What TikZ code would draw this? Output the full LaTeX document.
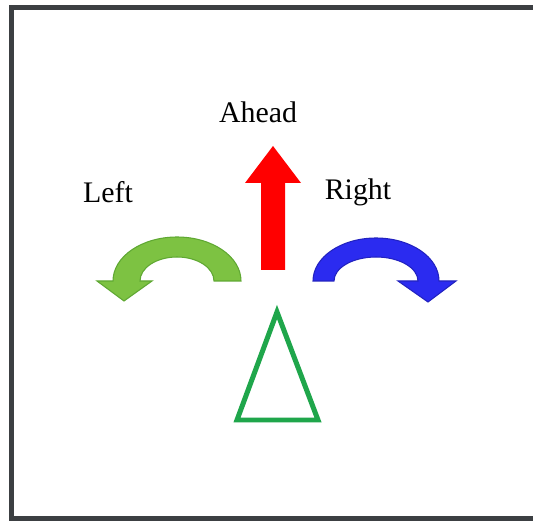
\documentclass[tikz,border=0pt]{standalone}
\usepackage{fontspec}
\setmainfont{Liberation Serif}
\definecolor{framegray}{HTML}{3C3F42}
\definecolor{leftgreen}{HTML}{7DC242}
\definecolor{leftedge}{HTML}{5FA832}
\definecolor{rightblue}{HTML}{2B2BF0}
\definecolor{aheadred}{HTML}{FF0000}
\definecolor{trigreen}{HTML}{1FA64B}
\begin{document}
\begin{tikzpicture}[x=0.02cm,y=0.02cm,
  lbl/.style={font=\fontsize{17}{20}\selectfont,inner sep=0pt},
  turnarrow/.style={line width=0.6pt,line join=miter}]
\useasboundingbox (0,0) rectangle (533,520);
\clip (0,0) rectangle (533,520);
\fill[white] (0,0) rectangle (533,520);
\draw[framegray,line width=0.1cm] (11.5,1.5) rectangle (560,512.5);
% labels
\node[lbl] (ahead) at (258,408) {Ahead};
\node[lbl] (left) at (108,328) {Left};
\node[lbl] (right) at (358,328) {Right};
% ahead arrow
\fill[aheadred] (261,250) -- (261,337) -- (245,337) -- (273,374) -- (301,337) -- (285,337) -- (285,250) -- cycle;
% left turn
\filldraw[turnarrow,fill=leftgreen,draw=leftedge] (241,239)
  arc[start angle=0,end angle=180,x radius=64,y radius=44]
  -- (97,239) -- (124,219) -- (152,239) -- (140,239)
  arc[start angle=180,end angle=0,x radius=37,y radius=24] -- cycle;
% right turn
\filldraw[turnarrow,fill=rightblue,draw=rightblue!80!black] (313,239)
  arc[start angle=180,end angle=0,x radius=63,y radius=43]
  -- (456,239) -- (428,218) -- (398,239) -- (418,239)
  arc[start angle=0,end angle=180,x radius=42,y radius=24] -- cycle;
% triangle
\draw[trigreen,line width=0.1cm] (277,208) -- (318,100) -- (237,100) -- cycle;
\end{tikzpicture}
\end{document}
